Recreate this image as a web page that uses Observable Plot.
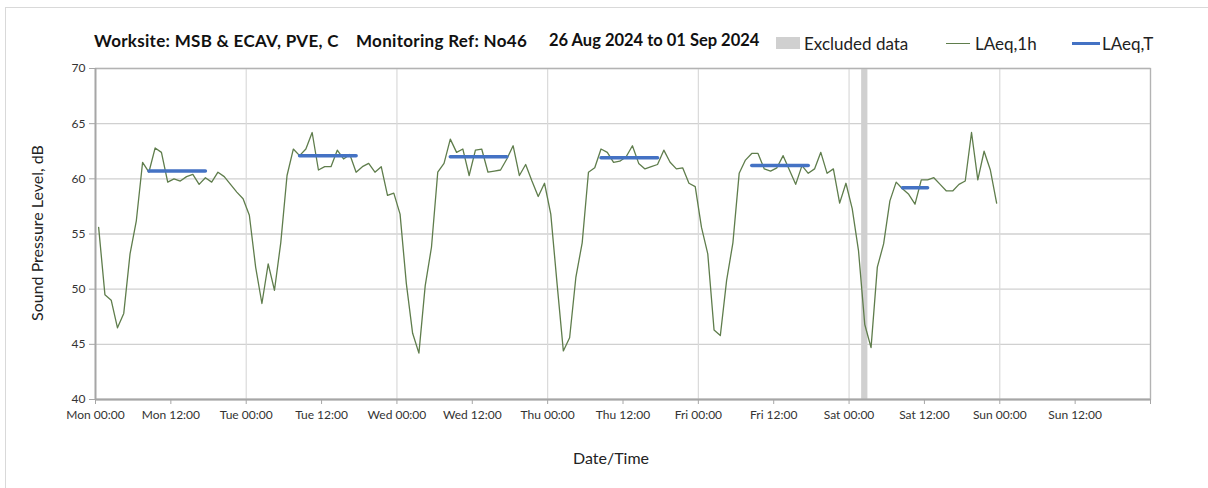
<!DOCTYPE html>
<html><head><meta charset="utf-8">
<script src="https://cdn.jsdelivr.net/npm/d3@7"></script>
<script src="https://cdn.jsdelivr.net/npm/@observablehq/plot@0.6"></script>
<style>
body{margin:0;background:#fff;font-family:Lato,"Open Sans",sans-serif;color:#000;}
#wrap{position:relative;width:1208px;height:488px;overflow:hidden;background:#fff;}
#frame{position:absolute;left:5px;top:7px;width:1400px;height:700px;border:1px solid #d9d9d9;}
.t{position:absolute;white-space:nowrap;font-weight:bold;font-size:17px;letter-spacing:0.3px;top:30px;color:#111;}
.lg{position:absolute;white-space:nowrap;font-size:17px;top:33px;color:#222;}
.sw{position:absolute;}
#xl{position:absolute;left:573px;top:448px;font-size:16px;color:#222;}
#yl{position:absolute;left:36px;top:233px;font-size:16px;color:#222;transform:translate(-50%,-50%) rotate(-90deg);white-space:nowrap;}
#chart{position:absolute;left:0;top:0;}
</style></head>
<body>
<div id="wrap">
  <div id="frame"></div>
  <div id="chart"></div>
  <div class="t" style="left:94px">Worksite: MSB &amp; ECAV, PVE, C</div>
  <div class="t" style="left:356px">Monitoring Ref: No46</div>
  <div class="t" style="left:549px;letter-spacing:0;font-size:16.5px">26 Aug 2024 to 01 Sep 2024</div>
  <div class="sw" style="left:776px;top:37px;width:24px;height:12px;background:#d0d0d0"></div>
  <div class="lg" style="left:804px">Excluded data</div>
  <div class="sw" style="left:946px;top:43px;width:24px;height:1.3px;background:#5f7d4c"></div>
  <div class="lg" style="left:975px">LAeq,1h</div>
  <div class="sw" style="left:1072px;top:42px;width:28px;height:3px;background:#4472c4"></div>
  <div class="lg" style="left:1102px">LAeq,T</div>
  <div id="xl">Date/Time</div>
  <div id="yl">Sound Pressure Level, dB</div>
</div>
<script>
// Hourly LAeq,1h values, Mon 26 Aug 00:00 onwards (one value per hour)
const mon = [55.6,49.5,49.0,46.5,47.8,53.2,56.2,61.5,60.6,62.8,62.4,59.7,60.0,59.8,60.2,60.4,59.5,60.1,59.7,60.6,60.2,59.5,58.8,58.2];
const tue = [56.7,52.0,48.7,52.3,49.9,54.2,60.3,62.7,62.1,62.7,64.2,60.8,61.1,61.1,62.6,61.8,62.2,60.6,61.1,61.4,60.6,61.1,58.5,58.7];
const wed = [56.8,50.5,46.0,44.2,50.3,53.8,60.6,61.4,63.6,62.4,62.7,60.3,62.6,62.7,60.6,60.7,60.8,61.8,63.0,60.3,61.3,59.8,58.4,59.6];
const thu = [56.8,50.5,44.4,45.6,51.1,54.2,60.6,61.0,62.7,62.4,61.5,61.6,62.0,63.0,61.4,60.9,61.1,61.3,62.6,61.5,60.9,61.0,59.6,59.3];
const fri = [55.6,53.2,46.3,45.8,50.8,54.2,60.5,61.7,62.3,62.3,60.9,60.7,61.0,62.1,60.8,59.5,61.2,60.5,60.9,62.4,60.5,60.9,57.8,59.6];
const sat = [57.3,53.5,46.8,44.7,52.0,54.1,58.0,59.7,59.1,58.6,57.7,59.9,59.9,60.1,59.5,58.9,58.9,59.5,59.8,64.2,59.9,62.5,60.8,57.8];

// LAeq,T daytime values (day index, start hour, end hour, value)
const periodDay   = [0,1,2,3,4,5];
const periodStart = [8.5,8.5,8.5,8.5,8.5,8.5];
const periodEnd   = [17.5,17.5,17.5,17.5,17.5,12.5];
const periodValue = [60.7,62.1,62.0,61.9,61.2,59.2];

// Excluded data (hours since Mon 00:00)
const excludedStart = [122];
const excludedEnd   = [123];

const dayNames = ["Mon","Tue","Wed","Thu","Fri","Sat","Sun"];
const tickHours = d3.range(0, 169, 12);
const dayTicks = d3.range(0, 169, 24);
const yTicks = [40,45,50,55,60,65,70];

const hourly = [mon,tue,wed,thu,fri,sat].flatMap((arr, d) =>
  arr.map((v, h) => ({t: d*24 + h + 0.5, v})));
const periods = periodDay.map((d, i) => ({x1: d*24 + periodStart[i], x2: d*24 + periodEnd[i], v: periodValue[i]}));
const excluded = excludedStart.map((s, i) => ({x1: s, x2: excludedEnd[i]}));

const fmtX = h => h >= 168 ? "" : `${dayNames[Math.floor(h/24)]} ${h % 24 === 0 ? "00:00" : "12:00"}`;

const chart = Plot.plot({
  width: 1208, height: 488,
  marginLeft: 95, marginRight: 58, marginTop: 68, marginBottom: 89,
  style: {fontFamily: "Lato, 'Open Sans', sans-serif", fontSize: "12px", color: "#333", background: "transparent"},
  x: {type: "linear", domain: [0, 168]},
  y: {domain: [40, 70]},
  marks: [
    Plot.gridY(yTicks, {stroke: "#d0d0d0", strokeOpacity: 1, strokeWidth: 1.3}),
    Plot.gridX(dayTicks, {stroke: "#dadada", strokeOpacity: 1, strokeWidth: 1.2}),
    Plot.rect(excluded, {x1: "x1", x2: "x2", fill: "#d0d0d0"}),
    Plot.frame({stroke: "#b3b3b3", strokeWidth: 1.3}),
    Plot.ruleX([0], {stroke: "#a6a6a6", strokeWidth: 1.8}),
    Plot.ruleY([40], {stroke: "#a6a6a6", strokeWidth: 1.8}),
    Plot.line(hourly, {x: "t", y: "v", stroke: "#5f7d4c", strokeWidth: 1.3}),
    Plot.link(periods, {x1: "x1", x2: "x2", y1: "v", y2: "v", stroke: "#4472c4", strokeWidth: 3.5, strokeLinecap: "round"}),
    Plot.axisY(yTicks, {tickSize: 6, tickPadding: 4, stroke: "#a6a6a6", label: null, fontSize: 12, fill: "#333"}),
    Plot.axisX(tickHours, {tickSize: 5, tickPadding: 6, stroke: "#a6a6a6", tickFormat: fmtX, label: null, fontSize: 12, fill: "#333"})
  ]
});
document.getElementById("chart").appendChild(chart);
</script>
</body></html>
